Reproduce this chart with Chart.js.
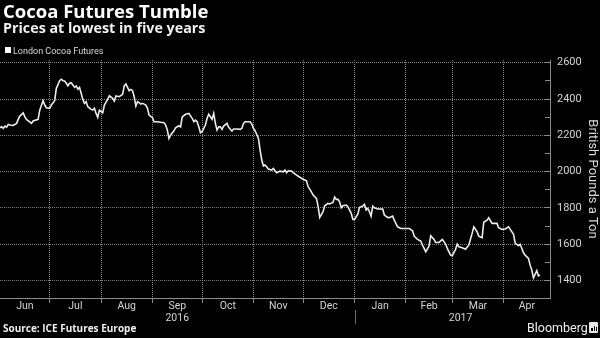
<!DOCTYPE html>
<html>
<head>
<meta charset="utf-8">
<script src="https://cdn.jsdelivr.net/npm/chart.js@4.4.1/dist/chart.umd.min.js"></script>
<style>
html,body{margin:0;padding:0;background:#000;}
#wrap{position:relative;width:600px;height:338px;background:#000;overflow:hidden;}
#c{position:absolute;left:0;top:0;}
.t{position:absolute;white-space:nowrap;line-height:1;}
#title{left:3px;top:2px;font-family:'Open Sans';font-weight:700;font-size:18.5px;color:#fff;}
#sub{left:3px;top:20.5px;font-family:'Open Sans';font-weight:700;font-size:14.3px;color:#f2f2f2;}
#leg{left:13px;top:46.5px;font-family:Roboto;font-size:9px;color:#d9d9d9;}
#legbox{position:absolute;left:5px;top:47px;width:6px;height:6px;background:#fff;}
#src{left:3px;top:323px;font-family:'Open Sans';font-weight:700;font-size:10px;color:#f0f0f0;}
#bb{left:527px;top:322px;font-family:Roboto;font-size:12.5px;color:#f0f0f0;}
#logo{position:absolute;left:589px;top:322px;width:9px;height:11px;background:#e8e8e8;border-radius:1px;}
#logo i{position:absolute;bottom:2px;width:1.5px;background:#000;}
</style>
</head>
<body>
<div id="wrap">
<canvas id="c" width="600" height="338"></canvas>
<div class="t" id="title">Cocoa Futures Tumble</div>
<div class="t" id="sub">Prices at lowest in five years</div>
<div id="legbox"></div>
<div class="t" id="leg">London Cocoa Futures</div>
<div class="t" id="src">Source: ICE Futures Europe</div>
<div class="t" id="bb">Bloomberg</div>
<div id="logo"><i style="left:2px;height:3px"></i><i style="left:4.5px;height:5px"></i><i style="left:7px;height:4px;width:1px"></i></div>
</div>
<script>
// Days since 1 June 2016 (x) and price in GBP/ton (y)
const START = Date.UTC(2016, 5, 1);
const DAY = 86400000;
const AXIS_END_DAY = 332; // 29 Apr 2017
const seriesName = 'London Cocoa Futures';
const monthLabels = ['Jun','Jul','Aug','Sep','Oct','Nov','Dec','Jan','Feb','Mar','Apr'];
const yearLabels = ['2016','2017'];
const yMajorTicks = [1400,1600,1800,2000,2200,2400,2600];
const dayOffsets = [0,1,2,3,4,5,6,8,10,11,12,14,15,16,19,20,23,24,26,27,28,30,31,33,34,36,37,38,39,40,41,42,43,44,45,46,47,48,49,50,51,52,53,55,56,57,58,59,60,62,63,65,66,68,69,70,72,74,75,76,77,78,79,80,81,82,83,84,85,86,87,88,89,90,92,93,95,97,99,100,101,102,103,105,106,108,109,110,112,114,116,117,118,119,120,121,122,124,125,126,128,129,130,131,132,133,134,135,137,138,140,141,143,145,146,147,148,151,152,153,154,156,157,158,159,160,161,162,164,165,166,167,169,171,172,173,174,176,177,179,181,183,185,186,188,189,191,192,193,195,196,198,199,201,202,203,204,205,206,207,209,210,212,213,214,216,217,219,220,221,222,223,224,225,226,228,229,231,232,234,235,237,238,240,242,244,247,249,250,252,254,255,257,259,260,262,263,265,267,269,270,272,273,275,276,277,279,281,283,285,286,288,289,291,292,294,295,297,298,300,301,303,305,307,308,310,311,313,314,315,316,317,319,320,321,322,323,324,325,326];
const prices = [2242,2247,2239,2251,2245,2260,2257,2255,2266,2288,2306,2324,2302,2288,2266,2279,2288,2339,2391,2367,2352,2349,2367,2391,2459,2501,2509,2501,2499,2487,2473,2487,2490,2477,2464,2472,2454,2464,2431,2398,2376,2385,2358,2343,2339,2349,2321,2299,2339,2324,2367,2398,2418,2404,2389,2417,2413,2426,2472,2483,2464,2446,2453,2446,2413,2361,2385,2380,2372,2376,2372,2367,2349,2312,2297,2275,2275,2272,2270,2257,2229,2183,2202,2225,2242,2253,2247,2302,2316,2321,2294,2275,2284,2275,2247,2214,2220,2257,2294,2316,2288,2321,2266,2229,2247,2247,2233,2251,2266,2244,2224,2235,2235,2233,2239,2266,2275,2275,2262,2239,2225,2183,2119,2064,2031,2036,2027,2014,2009,2018,2005,1994,2003,1999,2009,1994,2005,2003,1994,1981,1969,1958,1950,1917,1889,1871,1853,1810,1748,1779,1812,1825,1822,1830,1860,1847,1847,1834,1801,1812,1816,1807,1770,1737,1737,1766,1803,1810,1820,1789,1798,1779,1755,1810,1801,1794,1794,1794,1761,1748,1746,1755,1733,1696,1687,1687,1687,1674,1645,1627,1618,1596,1559,1590,1647,1627,1610,1610,1627,1601,1577,1540,1537,1572,1601,1586,1581,1573,1596,1660,1696,1669,1645,1636,1721,1733,1746,1715,1715,1715,1691,1682,1684,1696,1682,1655,1605,1592,1600,1577,1553,1540,1522,1485,1458,1415,1434,1454,1426,1430];

// month boundaries (days since start) derived from calendar
const monthStarts = [];
for (let i = 0; i <= monthLabels.length; i++) {
  monthStarts.push((Date.UTC(2016, 5 + i, 1) - START) / DAY);
}
const yearStarts = [0, (Date.UTC(2017,0,1) - START) / DAY, monthStarts[monthStarts.length - 1] + 8];

const labelAt = {};
const xTicks = [];
monthLabels.forEach((m, i) => {
  const mid = (monthStarts[i] + Math.min(monthStarts[i+1], AXIS_END_DAY)) / 2;
  labelAt[mid] = m;
  xTicks.push(mid);
});
const boundarySet = new Set();
monthStarts.forEach(d => { if (d > 0 && d < AXIS_END_DAY) { xTicks.push(d); boundarySet.add(d); } });
xTicks.sort((a,b)=>a-b);

const yAll = [];
for (let v = 1400; v <= 2600; v += 100) yAll.push(v);

const GRID = '#858585';
const AXIS = '#8c8c8c';
const TXT = '#d4d4d4';

const yearPlugin = {
  id: 'yearRow',
  afterDraw(chart) {
    const xs = chart.scales.x;
    const ctx = chart.ctx;
    ctx.save();
    ctx.fillStyle = TXT;
    ctx.font = '10.5px Roboto';
    ctx.textAlign = 'center';
    ctx.textBaseline = 'middle';
    yearLabels.forEach((lab, i) => {
      const a = yearStarts[i], b = yearStarts[i+1];
      ctx.fillText(lab, xs.getPixelForValue((a + b) / 2), xs.top + 20);
    });
    const sx = Math.round(xs.getPixelForValue(yearStarts[1])) + 0.5;
    ctx.strokeStyle = '#6a6a6a';
    ctx.lineWidth = 1;
    ctx.beginPath();
    ctx.moveTo(sx, xs.top + 12);
    ctx.lineTo(sx, xs.top + 26);
    ctx.stroke();
    ctx.restore();
  }
};

new Chart(document.getElementById('c'), {
  type: 'line',
  data: {
    datasets: [{
      label: seriesName,
      data: dayOffsets.map((d, i) => ({x: d, y: prices[i]})),
      borderColor: '#ececec',
      borderWidth: 1.6,
      pointRadius: 0,
      tension: 0,
      fill: false
    }]
  },
  options: {
    responsive: false,
    animation: false,
    devicePixelRatio: 1,
    layout: { padding: { top: 60, left: 0, right: 0, bottom: 0 } },
    plugins: { legend: { display: false }, title: { display: false }, tooltip: { enabled: false } },
    scales: {
      x: {
        type: 'linear',
        position: 'bottom',
        min: 0,
        max: AXIS_END_DAY,
        afterBuildTicks: s => { s.ticks = xTicks.map(v => ({value: v})); },
        afterFit: s => { s.height = 40; },
        grid: {
          display: true,
          drawOnChartArea: true,
          color: c => (c.tick && boundarySet.has(c.tick.value)) ? GRID : 'rgba(0,0,0,0)',
          tickColor: c => (c.tick && boundarySet.has(c.tick.value)) ? AXIS : 'rgba(0,0,0,0)',
          tickLength: 5,
          lineWidth: 1
        },
        border: { display: true, color: AXIS, width: 1, dash: [1, 1] },
        ticks: {
          autoSkip: false,
          maxRotation: 0,
          minRotation: 0,
          color: TXT,
          padding: -3,
          font: { family: 'Roboto', size: 10.5 },
          callback: v => labelAt[v] || ''
        }
      },
      y: {
        type: 'linear',
        position: 'right',
        min: 1304,
        max: 2615,
        afterBuildTicks: s => { s.ticks = yAll.map(v => ({value: v})); },
        afterFit: s => { s.width = 50; },
        grid: {
          display: true,
          drawOnChartArea: true,
          color: c => (c.tick && yMajorTicks.includes(c.tick.value)) ? GRID : 'rgba(0,0,0,0)',
          tickColor: AXIS,
          tickLength: -5,
          lineWidth: 1
        },
        border: { display: true, color: AXIS, width: 1, dash: [1, 1] },
        ticks: {
          autoSkip: false,
          color: TXT,
          padding: 12,
          font: { family: 'Roboto', size: 11 },
          callback: v => yMajorTicks.includes(v) ? String(v) : ''
        },
        title: {
          display: true,
          text: 'British Pounds a Ton',
          color: '#d9d9d9',
          padding: 0,
          font: { family: 'Roboto', size: 13 }
        }
      }
    }
  },
  plugins: [yearPlugin]
});
</script>
</body>
</html>
